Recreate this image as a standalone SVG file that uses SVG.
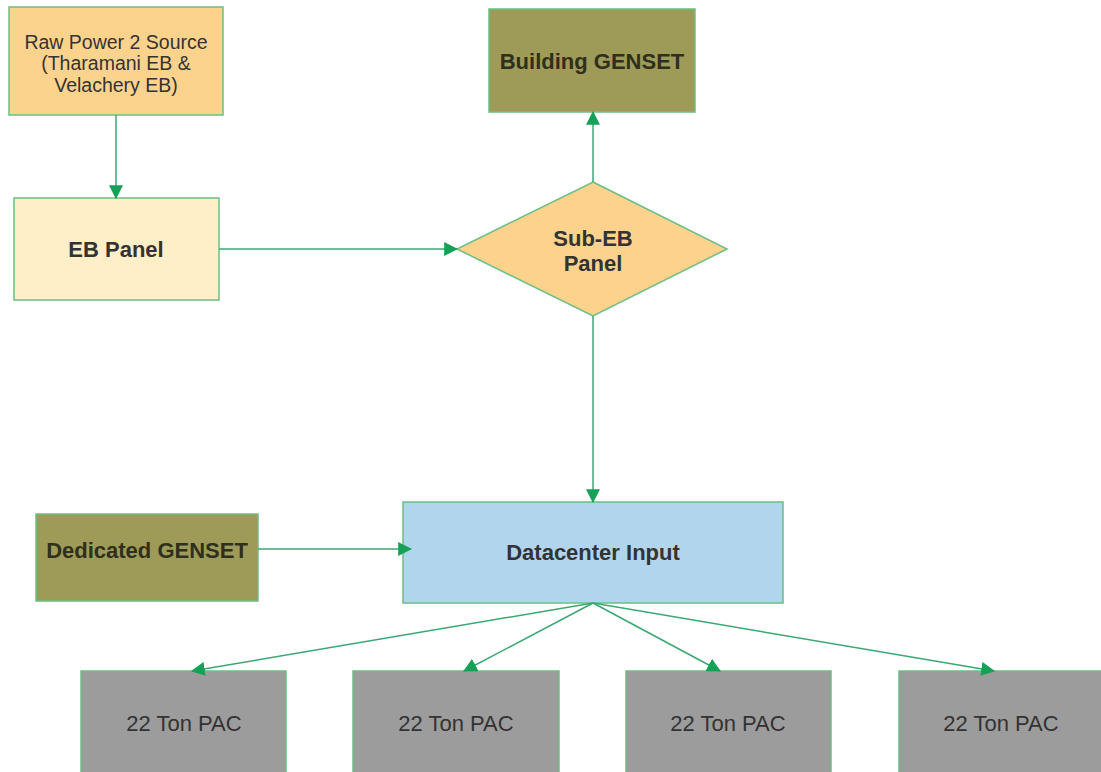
<svg xmlns="http://www.w3.org/2000/svg" width="1101" height="772" viewBox="0 0 1101 772">
<style>
.nd{stroke:#6cbf84;stroke-width:1.5}
.t{font-family:"Liberation Sans",Arial,sans-serif;text-anchor:middle;fill:#333}
.b{font-weight:bold;font-size:22px}
.r{font-size:22px}
.olive{fill:#9e9b59}
.olt{fill:#2f2f1c}
.cn{stroke:#3aa873;stroke-width:1.5;fill:none}
</style>
<defs>
<marker id="ah" markerUnits="userSpaceOnUse" markerWidth="14" markerHeight="14" viewBox="0 0 12 12" refX="11" refY="6" orient="auto">
<path d="M0,0 L12,6 L0,12 z" fill="#17a057"/>
</marker>
</defs>
<rect width="1101" height="772" fill="#ffffff"/>
<g id="raw-power">
<rect class="nd" x="9" y="7" width="214" height="108" fill="#fcd38d"/>
<text class="t" x="116" y="49" font-size="19.5">Raw Power 2 Source</text>
<text class="t" x="116" y="70" font-size="19.5">(Tharamani EB &amp;</text>
<text class="t" x="116" y="92" font-size="19.5">Velachery EB)</text>
</g>
<g id="eb-panel">
<rect class="nd" x="14" y="198" width="205" height="102" fill="#feefc8"/>
<text class="t b" x="116" y="257">EB Panel</text>
</g>
<g id="building-genset">
<rect class="nd olive" x="489" y="9" width="206" height="103"/>
<text class="t b olt" x="592" y="69">Building GENSET</text>
</g>
<g id="sub-eb-panel">
<polygon class="nd" points="593,182 727,249 593,316 457,249" fill="#fcd28d"/>
<text class="t b" x="593" y="246">Sub-EB</text>
<text class="t b" x="593" y="271">Panel</text>
</g>
<g id="dedicated-genset">
<rect class="nd olive" x="36" y="514" width="222" height="87"/>
<text class="t b olt" x="147" y="558">Dedicated GENSET</text>
</g>
<g id="datacenter-input">
<rect class="nd" x="403" y="502" width="380" height="101" fill="#b1d5ec"/>
<text class="t b" x="593" y="560">Datacenter Input</text>
</g>
<g id="pac-1">
<rect class="nd" x="81" y="671" width="205" height="112" fill="#9c9c9c"/>
<text class="t r" x="184" y="731">22 Ton PAC</text>
</g>
<g id="pac-2">
<rect class="nd" x="353" y="671" width="206" height="112" fill="#9c9c9c"/>
<text class="t r" x="456" y="731">22 Ton PAC</text>
</g>
<g id="pac-3">
<rect class="nd" x="626" y="671" width="205" height="112" fill="#9c9c9c"/>
<text class="t r" x="728" y="731">22 Ton PAC</text>
</g>
<g id="pac-4">
<rect class="nd" x="899" y="671" width="210" height="112" fill="#9c9c9c"/>
<text class="t r" x="1001" y="731">22 Ton PAC</text>
</g>
<g id="connectors">
<line class="cn" x1="116" y1="115" x2="116" y2="198" marker-end="url(#ah)"/>
<line class="cn" x1="219" y1="249" x2="457" y2="249" marker-end="url(#ah)"/>
<line class="cn" x1="593" y1="182" x2="593" y2="112" marker-end="url(#ah)"/>
<line class="cn" x1="593" y1="316" x2="593" y2="502" marker-end="url(#ah)"/>
<line class="cn" x1="258" y1="549" x2="411" y2="549" marker-end="url(#ah)"/>
<line class="cn" x1="593" y1="603" x2="192" y2="671" marker-end="url(#ah)"/>
<line class="cn" x1="593" y1="603" x2="464" y2="671" marker-end="url(#ah)"/>
<line class="cn" x1="593" y1="603" x2="720" y2="671" marker-end="url(#ah)"/>
<line class="cn" x1="593" y1="603" x2="994" y2="671" marker-end="url(#ah)"/>
</g>
</svg>
